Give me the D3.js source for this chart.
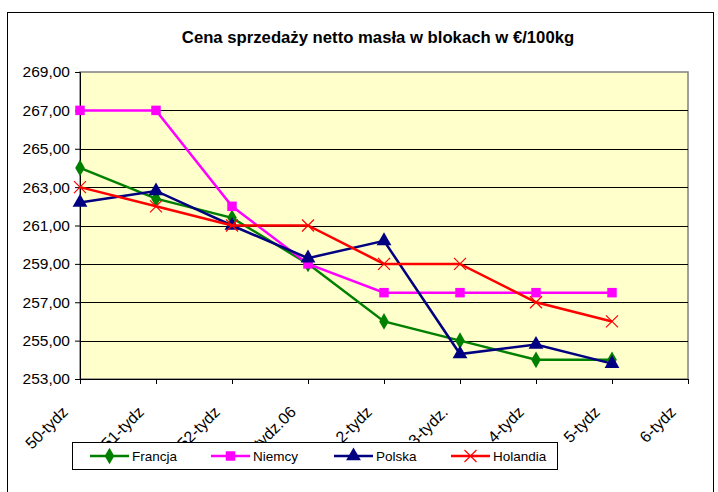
<!DOCTYPE html>
<html>
<head>
<meta charset="utf-8">
<script src="https://cdn.jsdelivr.net/npm/d3@7"></script>
<style>
  body { margin: 0; background: #fff; }
  text { font-family: "Liberation Sans", Arial, sans-serif; }
</style>
</head>
<body>
<div id="chart"></div>
<script>
// --- data ---
const weeks = ["50-tydz", "51-tydz", "52-tydz", "1-tydz.06", "2-tydz", "3-tydz.", "4-tydz", "5-tydz", "6-tydz"];
const francja  = [264.0, 262.4, 261.4, 259.0, 256.0, 255.0, 254.0, 254.0];
const niemcy   = [267.0, 267.0, 262.0, 259.0, 257.5, 257.5, 257.5, 257.5];
const polska   = [262.2, 262.8, 261.0, 259.3, 260.2, 254.3, 254.8, 253.8];
const holandia = [263.0, 262.0, 261.0, 261.0, 259.0, 259.0, 257.0, 256.0];
const yTicks = [253, 255, 257, 259, 261, 263, 265, 267, 269];

const series = [
  { name: "Francja",  values: francja,  color: "#008000", symbol: d3.symbolDiamond },
  { name: "Niemcy",   values: niemcy,   color: "#FF00FF", symbol: d3.symbolSquare },
  { name: "Polska",   values: polska,   color: "#000080", symbol: d3.symbolTriangle },
  { name: "Holandia", values: holandia, color: "#FF0000", symbol: null } // cross
];

const width = 718, height = 492;
const plot = { left: 80, right: 688, top: 72, bottom: 379 };

const svg = d3.select("#chart").append("svg")
  .attr("width", width)
  .attr("height", height);

// outer chart frame
svg.append("rect")
  .attr("x", 7.5).attr("y", 12.5)
  .attr("width", 706).attr("height", 500)
  .attr("fill", "#fff").attr("stroke", "#000").attr("stroke-width", 1);

svg.append("text")
  .attr("x", 378).attr("y", 43)
  .attr("text-anchor", "middle")
  .attr("font-size", 16.7).attr("font-weight", "bold")
  .text("Cena sprzedaży netto masła w blokach w €/100kg");

const x = d3.scalePoint().domain(weeks).range([plot.left, plot.right]);
const y = d3.scaleLinear().domain([253, 269]).range([plot.bottom, plot.top]);

// plot background
svg.append("rect")
  .attr("x", plot.left).attr("y", plot.top)
  .attr("width", plot.right - plot.left).attr("height", plot.bottom - plot.top)
  .attr("fill", "#FFFFCC").attr("stroke", "#808080").attr("stroke-width", 1.5);

// gridlines
svg.append("g").selectAll("line")
  .data(yTicks.slice(1, -1))
  .join("line")
  .attr("x1", plot.left).attr("x2", plot.right)
  .attr("y1", d => Math.round(y(d)) + 0.5).attr("y2", d => Math.round(y(d)) + 0.5)
  .attr("stroke", "#000").attr("stroke-width", 1);

// y axis
const fmt = d => d3.format(".2f")(d).replace(".", ",");
const yAxis = svg.append("g")
  .attr("transform", `translate(${plot.left},0)`)
  .call(d3.axisLeft(y).tickValues(yTicks).tickFormat(fmt).tickSize(5).tickPadding(5));
yAxis.selectAll("text").attr("font-size", 15.5).attr("fill", "#000")
  .attr("font-family", "Liberation Sans, Arial, sans-serif");
yAxis.selectAll("line").attr("stroke", "#000");
yAxis.select(".domain").attr("stroke", "#000");

// x axis
const xAxis = svg.append("g")
  .attr("transform", `translate(0,${plot.bottom})`)
  .call(d3.axisBottom(x).tickSize(5).tickSizeOuter(0).tickFormat(""));
xAxis.selectAll("line").attr("stroke", "#000");
xAxis.select(".domain").attr("stroke", "#000");

svg.append("g").selectAll("text")
  .data(weeks)
  .join("text")
  .attr("transform", d => `translate(${x(d) - 11},${plot.bottom + 34}) rotate(-45)`)
  .attr("text-anchor", "end")
  .attr("font-size", 16)
  .text(d => d);

// series lines and markers
const line = d3.line()
  .x((d, i) => x(weeks[i]))
  .y(d => y(d));

function drawMarker(g, s, cx, cy) {
  if (s.symbol) {
    const size = s.symbol === d3.symbolSquare ? 90 : (s.symbol === d3.symbolTriangle ? 95 : 80);
    g.append("path")
      .attr("d", d3.symbol().type(s.symbol).size(size)())
      .attr("transform", `translate(${cx},${cy})`)
      .attr("fill", s.color);
  } else {
    g.append("path")
      .attr("d", "M-6,-6L6,6M-6,6L6,-6")
      .attr("transform", `translate(${cx},${cy})`)
      .attr("stroke", s.color).attr("stroke-width", 1.2).attr("fill", "none");
  }
}

series.forEach(s => {
  const g = svg.append("g");
  g.append("path")
    .datum(s.values)
    .attr("d", line)
    .attr("fill", "none")
    .attr("stroke", s.color)
    .attr("stroke-width", 2.5);
  s.values.forEach((v, i) => drawMarker(g, s, x(weeks[i]), y(v)));
});

// legend
const legend = svg.append("g");
legend.append("rect")
  .attr("x", 72.5).attr("y", 442.5)
  .attr("width", 485).attr("height", 27)
  .attr("fill", "#fff").attr("stroke", "#000");

const legendX = [90, 211, 334, 451];
series.forEach((s, i) => {
  const g = legend.append("g");
  g.append("line")
    .attr("x1", legendX[i]).attr("x2", legendX[i] + 39)
    .attr("y1", 456).attr("y2", 456)
    .attr("stroke", s.color).attr("stroke-width", 2.5);
  drawMarker(g, s, legendX[i] + 19.5, 456);
  g.append("text")
    .attr("x", legendX[i] + 42).attr("y", 461)
    .attr("font-size", 13.5)
    .text(s.name);
});
</script>
</body>
</html>
